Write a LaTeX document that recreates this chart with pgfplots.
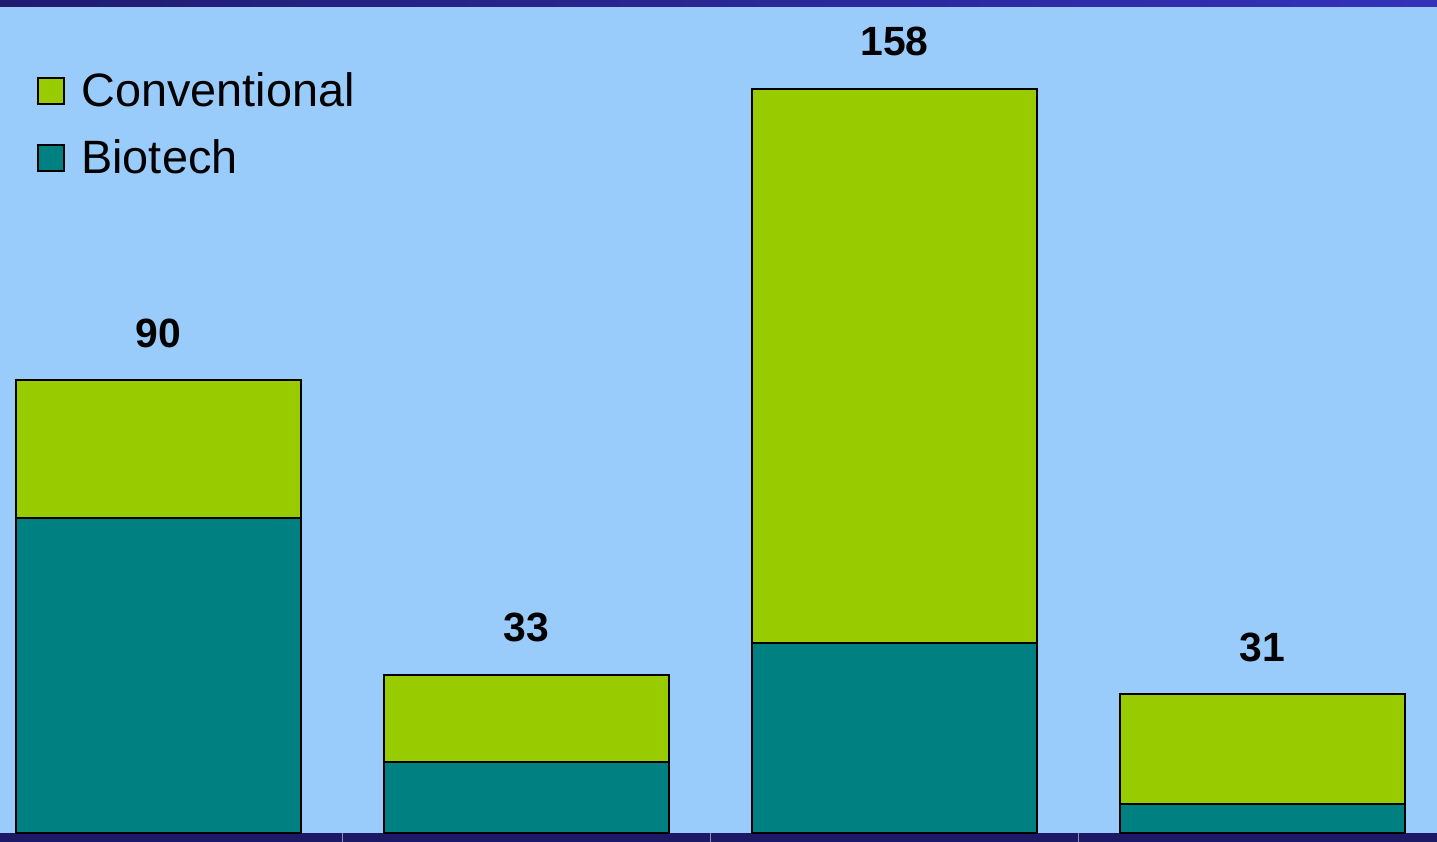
\documentclass[border=0pt]{standalone}
\usepackage{fontspec}
\setmainfont{Liberation Sans}
\usepackage{pgfplots}
\pgfplotsset{compat=1.18}
\definecolor{bg}{RGB}{153,204,251}
\definecolor{conv}{RGB}{153,204,0}
\definecolor{bio}{RGB}{0,128,128}
\definecolor{bandbot}{RGB}{28,26,102}
\definecolor{bandtopL}{RGB}{32,28,112}
\definecolor{bandtopR}{RGB}{52,50,186}
\definecolor{tickc}{RGB}{140,140,190}
\begin{document}
\begin{tikzpicture}
\fill[bandbot] (0,-4.5bp) rectangle (718.5bp,0);
\begin{axis}[
  at={(0,0)}, anchor=south west, scale only axis,
  width=718.5bp, height=416.5bp,
  xmin=-0.4307, xmax=3.474, ymin=0, ymax=176.9,
  axis background/.style={fill=bg},
  axis line style={draw=none},
  ytick=\empty,
  xtick={0.5,1.5,2.5}, xticklabels={}, tick align=outside,
  major tick length=4.5bp,
  xtick style={draw=tickc, line width=0.6bp},
  ybar stacked, bar width=142.5bp,
  stacked ignores zero=false,
  clip=false,
  reverse legend,
  legend cell align=left,
  legend image code/.code={\draw[#1, draw=black, line width=1bp] (0bp,-6.5bp) rectangle (13bp,6.5bp);},
  legend style={at={(0.0257,0.851)}, anchor=west, draw=none, fill=none,
    inner sep=0pt, row sep=15bp, column sep=8bp,
    font=\fontsize{23.5}{27}\selectfont, nodes={inner sep=0pt}},
]
\addplot[fill=bio, draw=black, line width=1bp] coordinates {(0,66.9) (1,15.1) (2,40.3) (3,6.2)};
\addlegendentry{Biotech}
\addplot[fill=conv, draw=black, line width=1bp]
  coordinates {(0,29.3) (1,18.5) (2,117.7) (3,23.3)};
\addlegendentry{Conventional}
\addplot[forget plot, draw=none, fill=none, point meta=explicit symbolic,
  nodes near coords,
  every node near coord/.append style={anchor=base, yshift=16.5bp,
    font=\fontsize{20.5}{24}\selectfont\bfseries, text=black}]
  coordinates {(0,0)[90] (1,0)[33] (2,0)[158] (3,0)[31]};
\end{axis}
\shade[left color=bandtopL, right color=bandtopR] (0,413bp) rectangle (718.5bp,416.5bp);
\pgfresetboundingbox
\useasboundingbox (0,-4.5bp) rectangle (718.5bp,416.5bp);
\end{tikzpicture}
\end{document}
